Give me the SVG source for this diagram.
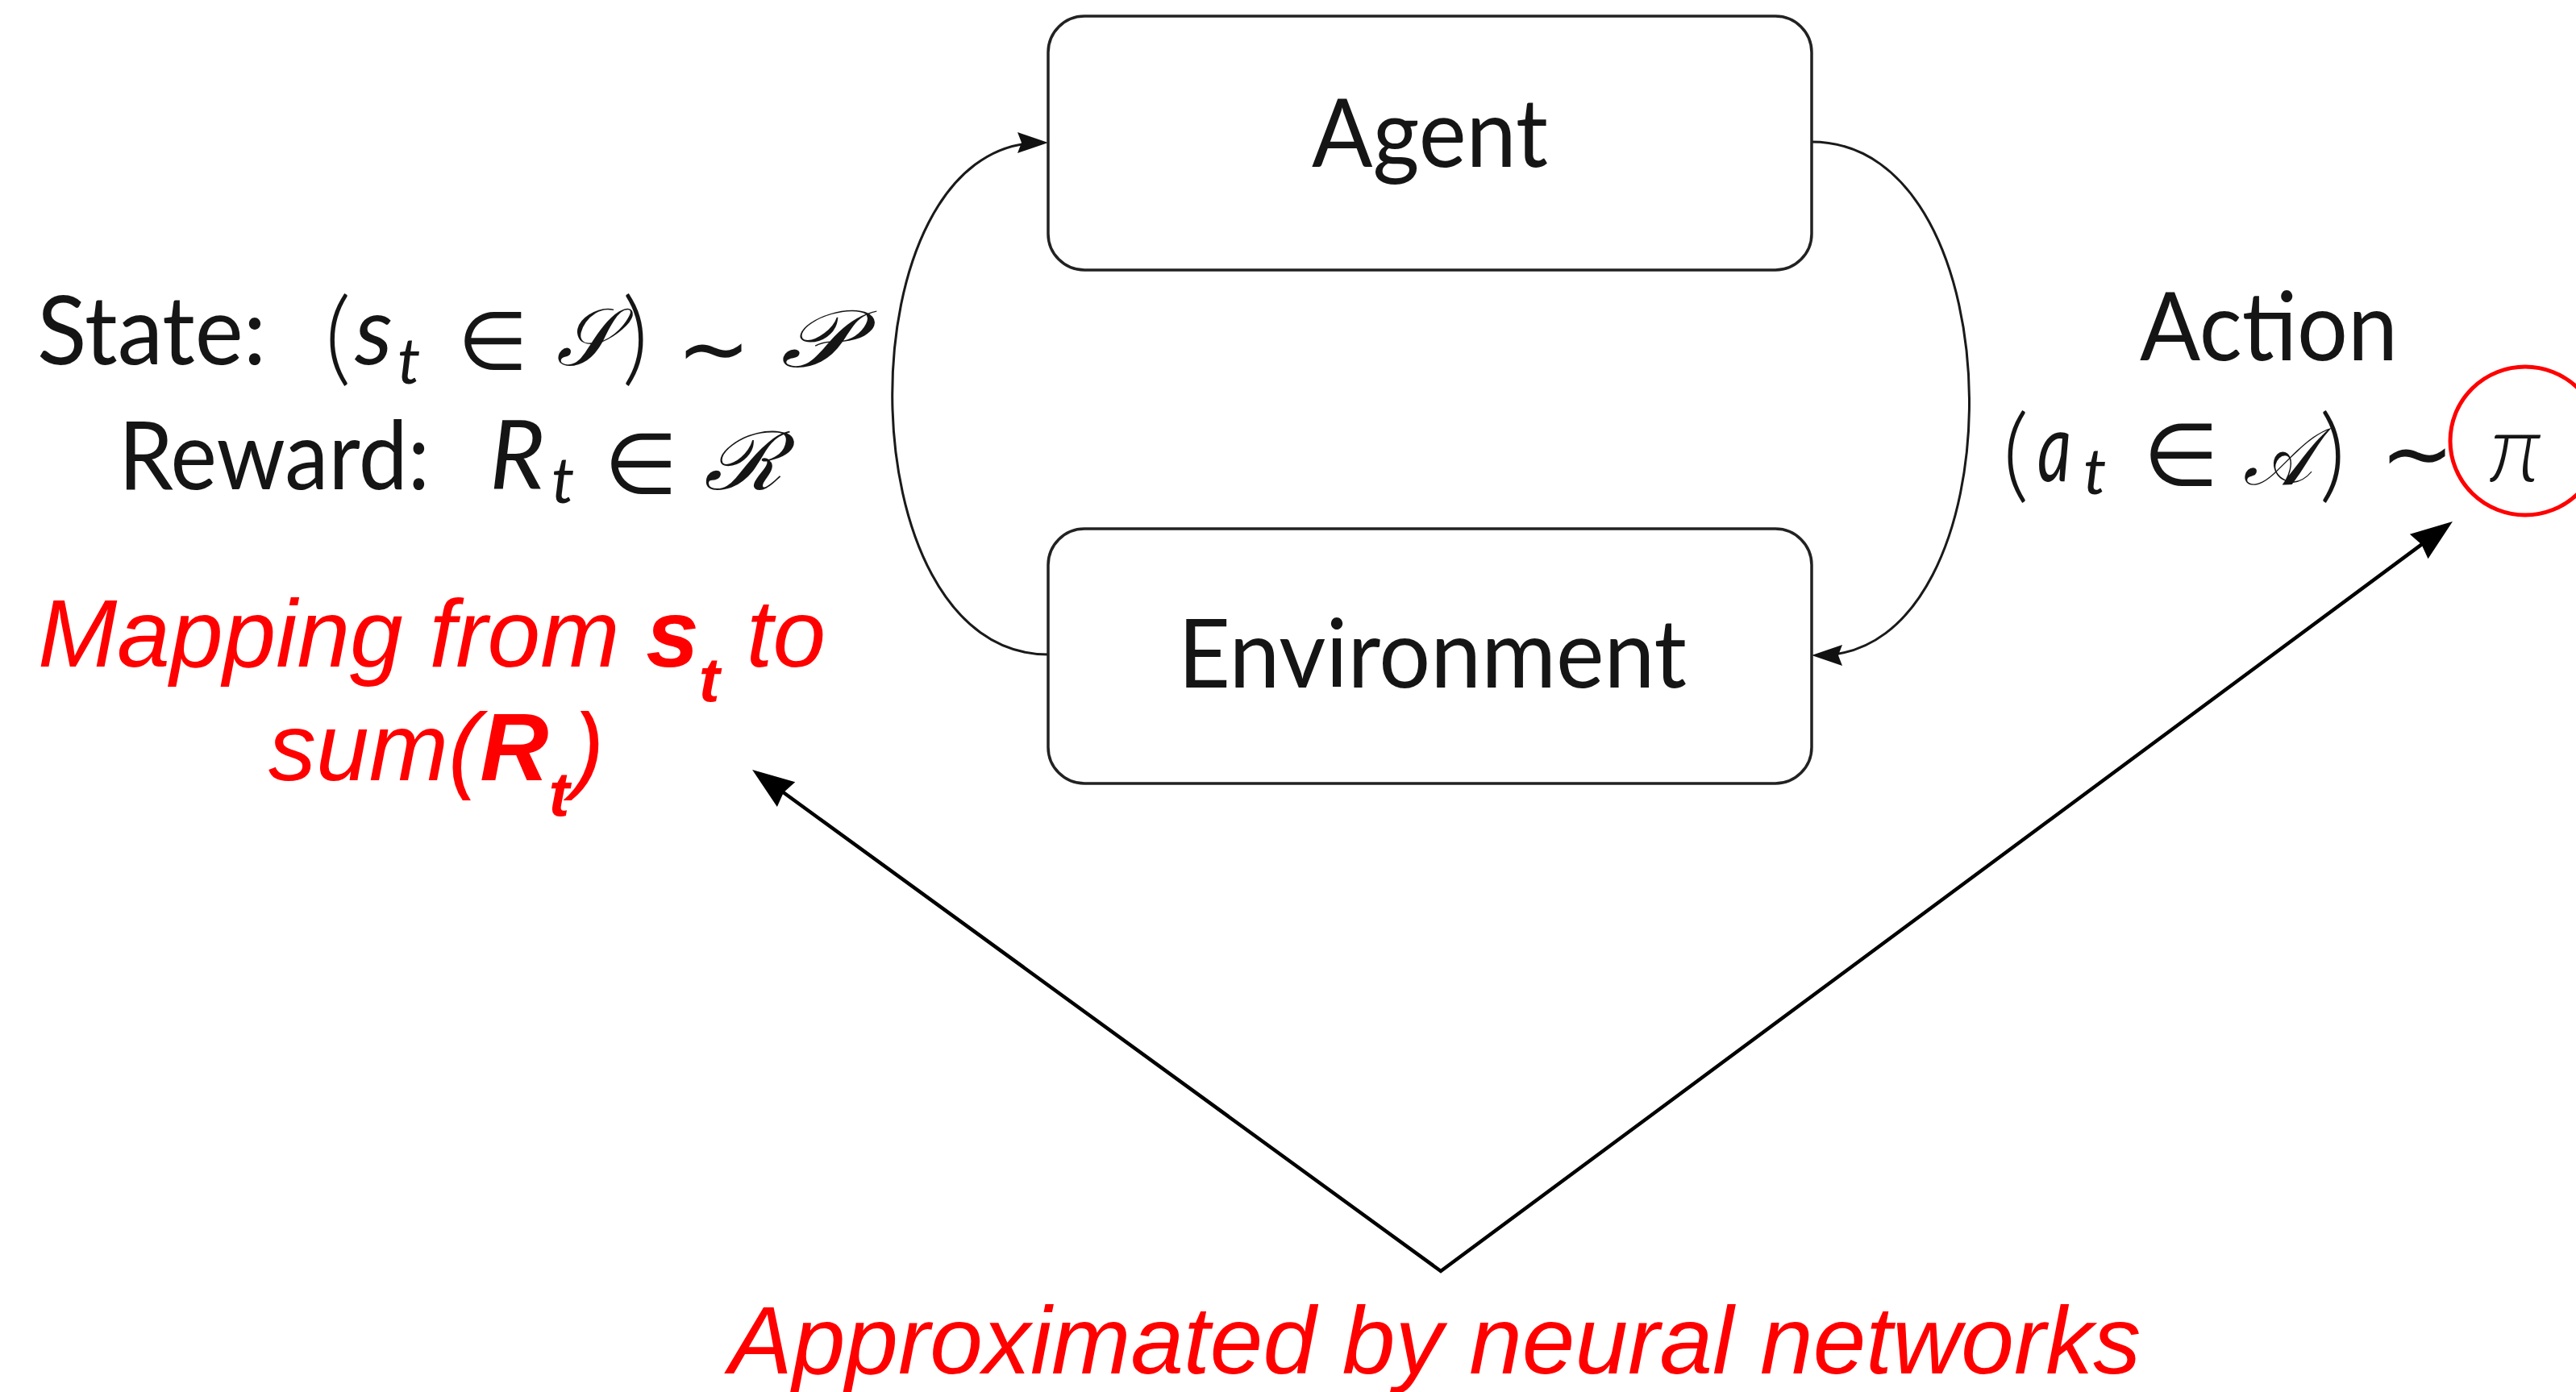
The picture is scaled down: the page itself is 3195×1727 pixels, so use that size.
<svg xmlns="http://www.w3.org/2000/svg" width="3195" height="1727" viewBox="0 0 3195 1727">
  <style>
    .box { fill: #ffffff; stroke: #222222; stroke-width: 3.5; }
    .lbl { font-family: Lato, "Open Sans", "DejaVu Sans", sans-serif; fill: #151515; font-size: 118px; }
    .it { font-style: italic; }
    .sub { font-size: 80px; font-style: italic; }
    .sym { font-family: "DejaVu Sans", sans-serif; font-size: 100px; fill: #151515; }
    .cal { font-family: "DejaVu Serif", "Liberation Serif", serif; font-style: italic; font-size: 100px; fill: #151515; }
    .par { font-family: Lato, "DejaVu Sans", sans-serif; font-size: 128px; fill: #151515; font-weight: 300; }
    .red { font-family: "Liberation Sans", Arial, sans-serif; font-style: italic; fill: #ff0000; font-size: 118px; }
    .rsub { font-size: 78px; font-weight: bold; }
    .loop { fill: none; stroke: #1a1a1a; stroke-width: 3; }
    .ptr { fill: none; stroke: #000000; stroke-width: 4.5; stroke-linejoin: miter; }
  </style>
  <defs>
    <marker id="loopHead" markerUnits="userSpaceOnUse" markerWidth="60" markerHeight="40" refX="0" refY="0" orient="auto" overflow="visible">
      <path d="M10,0 L-28,-13 L-23,0 L-28,13 Z" fill="#111111"/>
    </marker>
    <marker id="ptrHead" markerUnits="userSpaceOnUse" markerWidth="80" markerHeight="60" refX="0" refY="0" orient="auto-start-reverse" overflow="visible">
      <path d="M20,0 L-32,-19 L-28,0 L-32,19 Z" fill="#000000"/>
    </marker>
  </defs>

  <rect width="3195" height="1727" fill="#ffffff"/>

  <!-- agent / environment loop -->
  <g id="connectors">
    <path class="loop" d="M1300,812 C1044,812 1044,177 1290,177" marker-end="url(#loopHead)"/>
    <path class="loop" d="M2247,176 C2506,176 2506,813 2257,813" marker-end="url(#loopHead)"/>
    <path class="ptr" d="M949.2,966.8 L1787,1577 L3025.9,658.9" marker-start="url(#ptrHead)" marker-end="url(#ptrHead)"/>
  </g>

  <g id="agent">
    <rect class="box" x="1300" y="20" width="947" height="315" rx="45" ry="45"/>
    <text class="lbl" x="1627" y="207" textLength="293" lengthAdjust="spacingAndGlyphs">Agent</text>
  </g>

  <g id="environment">
    <rect class="box" x="1300" y="656" width="947" height="316" rx="45" ry="45"/>
    <text class="lbl" x="1461" y="853" textLength="631" lengthAdjust="spacingAndGlyphs">Environment</text>
  </g>

  <!-- state and reward -->
  <g id="state-label">
    <text class="lbl" x="46" y="452" textLength="284" lengthAdjust="spacingAndGlyphs">State:</text>
    <text class="par" x="419" y="462" text-anchor="middle">(</text>
    <text class="lbl it" x="440" y="452">s</text>
    <text class="lbl sub" x="493" y="476">t</text>
    <text class="sym" x="611" y="458" text-anchor="middle">∈</text>
    <text class="cal" x="690" y="453" textLength="72" lengthAdjust="spacingAndGlyphs">𝒮</text>
    <text class="par" x="788" y="462" text-anchor="middle">)</text>
    <text class="sym" x="885" y="470" text-anchor="middle" style="font-size:110px">∼</text>
    <text class="cal" x="968" y="455" textLength="88" lengthAdjust="spacingAndGlyphs">𝒫</text>

    <text class="lbl" x="147" y="607" textLength="386" lengthAdjust="spacingAndGlyphs">Reward:</text>
    <text class="lbl it" x="607" y="607">R</text>
    <text class="lbl sub" x="684" y="624">t</text>
    <text class="sym" x="795" y="612" text-anchor="middle" style="font-size:105px">∈</text>
    <text class="cal" x="873" y="607" textLength="97" lengthAdjust="spacingAndGlyphs">ℛ</text>
  </g>

  <!-- action -->
  <g id="action-label">
    <text class="lbl" x="2654" y="447" textLength="320" lengthAdjust="spacingAndGlyphs">Action</text>
    <text class="par" x="2500" y="607" text-anchor="middle">(</text>
    <text class="lbl it" x="2527" y="597" textLength="42" lengthAdjust="spacingAndGlyphs">a</text>
    <text class="lbl sub" x="2584" y="613">t</text>
    <text class="sym" x="2705" y="602" text-anchor="middle" style="font-size:108px">∈</text>
    <text class="cal" x="2782" y="601" textLength="86" lengthAdjust="spacingAndGlyphs">𝒜</text>
    <text class="par" x="2893" y="607" text-anchor="middle">)</text>
    <text class="sym" x="2998" y="600" text-anchor="middle" style="font-size:110px">∼</text>
    <text class="lbl it" x="3120" y="597" text-anchor="middle" font-weight="300">π</text>
  </g>

  <g id="policy-circle">
    <ellipse cx="3132" cy="547" rx="93" ry="92" fill="none" stroke="#ff0000" stroke-width="5"/>
  </g>

  <!-- annotations -->
  <g id="mapping-note">
    <text class="red" x="47" y="827">Mapping from <tspan font-weight="bold">s</tspan><tspan class="rsub" dy="43">t</tspan><tspan dy="-43"> to</tspan></text>
    <text class="red" x="333" y="968">sum(<tspan font-weight="bold">R</tspan><tspan class="rsub" dy="44">t</tspan><tspan x="710" dy="-44">)</tspan></text>
  </g>

  <g id="approx-note">
    <text class="red" x="904" y="1704">Approximated by neural networks</text>
  </g>
</svg>
